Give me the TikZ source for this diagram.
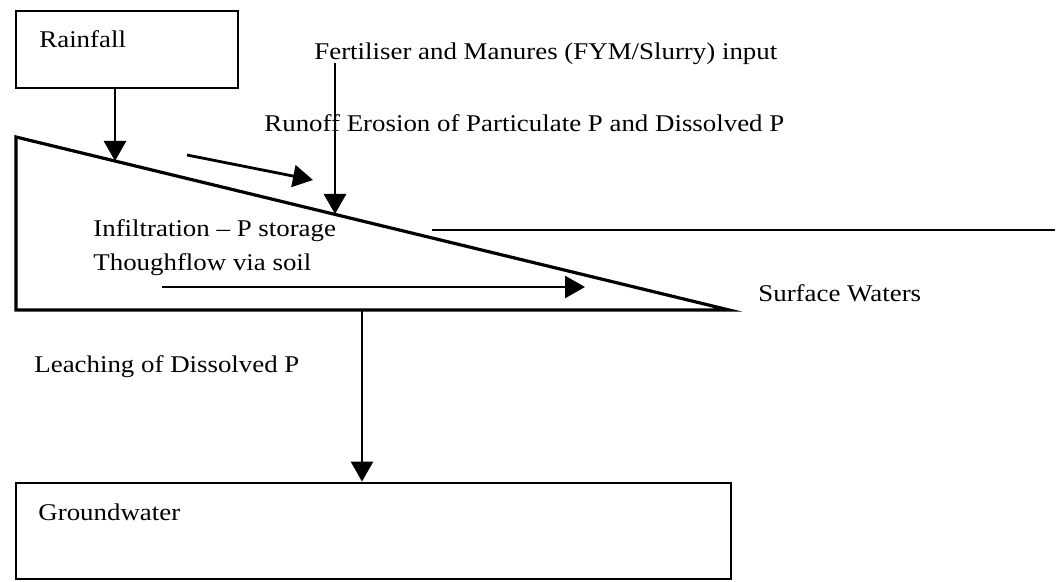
\documentclass[tikz,border=0pt]{standalone}
\usepackage{fontspec}
\setmainfont{Liberation Serif}[FakeStretch=1.12]
\usetikzlibrary{positioning,arrows.meta}

\begin{document}
\begin{tikzpicture}[x=0.5pt, y=-0.5pt, line width=1.4pt,
    flow/.style={-{Triangle[length=10pt,width=11pt]}},
    box/.style={draw, rectangle, inner sep=0pt},
    lbl/.style={anchor=base west, inner sep=0pt, font=\fontsize{12pt}{14pt}\selectfont}]

    \useasboundingbox (0,0) rectangle (1060,582);

    % Box della pioggia in alto a sinistra
    \node[box, minimum width=111pt, minimum height=38.5pt] (rainfall) at (127,49.5) {};
    \node[lbl] (rainlbl) at (38,48) {Rainfall};

    % Versante: triangolo con la cresta a sinistra e il piede a destra
    \coordinate (crest) at (16,137);
    \coordinate (toe) at (729,310);
    \coordinate (heel) at (16,310);
    \draw[line width=1.6pt] (crest) -- (toe) -- (heel) -- cycle;

    % Pioggia che cade sul versante
    \coordinate (rainhit) at (115,161);
    \draw[flow] (rainhit |- rainfall.south) -- (rainhit);

    % Apporto di fertilizzanti e ruscellamento
    \node[lbl] (fertlbl) at (313,60) {Fertiliser and Manures (FYM/Slurry) input};
    \node[lbl] (runofflbl) at (263,132) {Runoff Erosion of Particulate P and Dissolved P};
    \coordinate (fertin) at (335,63);
    \coordinate (fertout) at (335,214);
    \draw[flow] (fertin) -- (fertout);
    \coordinate (runin) at (187,155);
    \coordinate (runout) at (313,180);
    \draw[flow] (runin) -- (runout);

    % Flusso nel suolo
    \node[lbl] (infillbl) at (92,237) {Infiltration -- P storage};
    \node[lbl] (thrulbl) at (92,271) {Thoughflow via soil};
    \coordinate (thruin) at (162,287);
    \coordinate (thruout) at (585,287);
    \draw[flow] (thruin) -- (thruout);

    % Acque superficiali
    \coordinate (swleft) at (432,230);
    \coordinate (swright) at (1055,230);
    \draw (swleft) -- (swright);
    \node[lbl] (surflbl) at (757,302) {Surface Waters};

    % Lisciviazione verso la falda
    \node[box, minimum width=357.5pt, minimum height=48pt] (groundwater) at (373.5,531) {};
    \node[lbl] (gwlbl) at (37,520) {Groundwater};
    \node[lbl] (leachlbl) at (33,373) {Leaching of Dissolved P};
    \coordinate (leach) at (362,310);
    \draw[flow] (leach) -- (leach |- groundwater.north);

\end{tikzpicture}
\end{document}
